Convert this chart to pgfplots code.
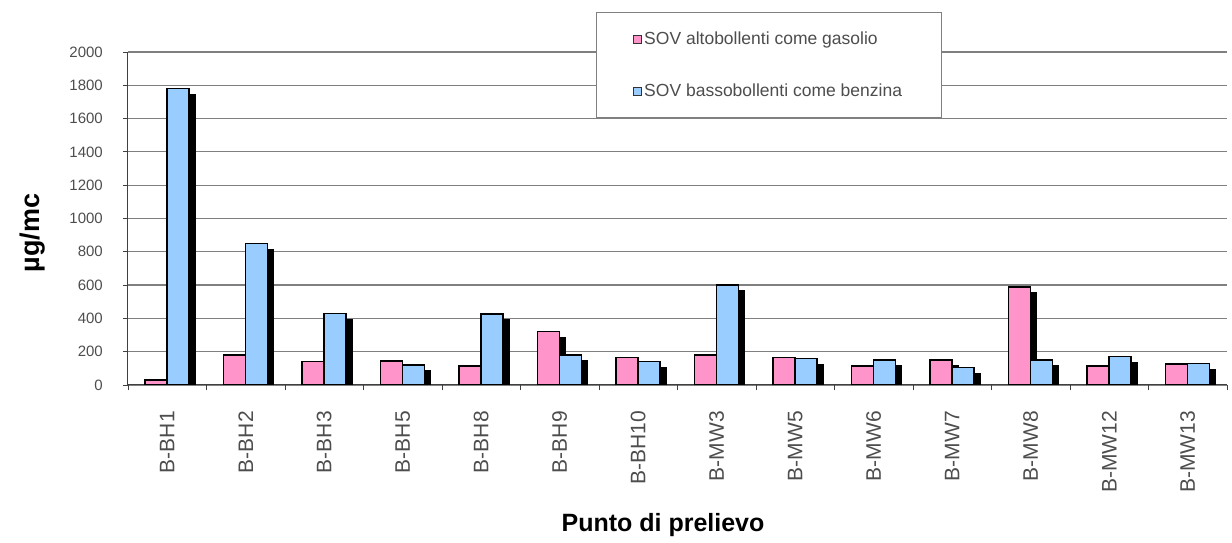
\documentclass[border=0pt]{standalone}
\usepackage{pgfplots}
\pgfplotsset{compat=1.18}
\usepackage{fontspec}
\setmainfont{Liberation Sans}
\definecolor{pinkc}{HTML}{FF94CA}
\definecolor{bluec}{HTML}{99CCFF}
\definecolor{gridc}{HTML}{808080}
\definecolor{txtc}{HTML}{4D4D4D}
\begin{document}
\begin{tikzpicture}
\useasboundingbox (-128pt,-158pt) rectangle (1104pt,385pt);
\begin{axis}[
  at={(0pt,0pt)}, anchor=south west,
  scale only axis, width=1099pt, height=333pt,
  ybar=0pt, bar width=22pt,
  xmin=-0.5, xmax=13.5, ymin=0, ymax=2000,
  ytick={0,200,...,2000},
  xtick={-0.5,0.5,...,13.5}, xticklabels={},
  extra x ticks={0,1,...,13},
  extra x tick labels={B-BH1,B-BH2,B-BH3,B-BH5,B-BH8,B-BH9,B-BH10,B-MW3,B-MW5,B-MW6,B-MW7,B-MW8,B-MW12,B-MW13},
  extra x tick style={major tick length=0pt, grid=none},
  axis x line*=bottom, axis y line*=left,
  axis line style={-, draw=black!75, line width=1pt},
  ymajorgrids, grid style={gridc, line width=1.2pt},
  tick align=outside, major tick length=5pt,
  tick style={draw=black!75, line width=0.8pt},
  xticklabel style={rotate=90, anchor=east, font=\fontsize{21}{21}\selectfont, text=txtc, inner xsep=26pt},
  yticklabel style={font=\fontsize{15}{15}\selectfont, text=txtc, inner xsep=20pt},
  /pgf/number format/assume math mode=true,
  /pgf/number format/1000 sep={},
  legend style={at={(0.4258,1.1201)}, anchor=north west, draw=gridc, line width=1pt, fill=white,
    font=\fontsize{17.5}{17.5}\selectfont, text=txtc, inner xsep=37pt, inner ysep=17.5pt, row sep=34pt},
  legend cell align=left,
]
\addplot[fill=pinkc, draw=black, line width=1.5pt,
  preaction={fill=black, transform canvas={xshift=6pt,yshift=-6pt}},
  legend image code/.code={%
    \pgfsetfillcolor{pinkc}\pgfsetstrokecolor{black!80}\pgfsetlinewidth{0.8pt}%
    \pgfpathrectanglecorners{\pgfpoint{0pt}{-4pt}}{\pgfpoint{8pt}{4pt}}%
    \pgfusepath{fill,stroke}}]
  coordinates {(0,30) (1,180) (2,140) (3,145) (4,115) (5,320) (6,165) (7,180) (8,165) (9,115) (10,150) (11,590) (12,115) (13,125)};
\addlegendentry{SOV altobollenti come gasolio}
\addplot[fill=bluec, draw=black, line width=1.5pt,
  preaction={fill=black, transform canvas={xshift=6pt,yshift=-6pt}},
  legend image code/.code={%
    \pgfsetfillcolor{bluec}\pgfsetstrokecolor{black!80}\pgfsetlinewidth{0.8pt}%
    \pgfpathrectanglecorners{\pgfpoint{0pt}{-4pt}}{\pgfpoint{8pt}{4pt}}%
    \pgfusepath{fill,stroke}}]
  coordinates {(0,1780) (1,850) (2,430) (3,120) (4,425) (5,180) (6,140) (7,600) (8,160) (9,150) (10,105) (11,150) (12,170) (13,130)};
\addlegendentry{SOV bassobollenti come benzina}
\end{axis}
\node[rotate=90, font=\bfseries\fontsize{27}{27}\selectfont] at (-95pt,152pt) {µg/mc};
\node[font=\bfseries\fontsize{25}{25}\selectfont] at (535pt,-140pt) {Punto di prelievo};
\end{tikzpicture}
\end{document}
